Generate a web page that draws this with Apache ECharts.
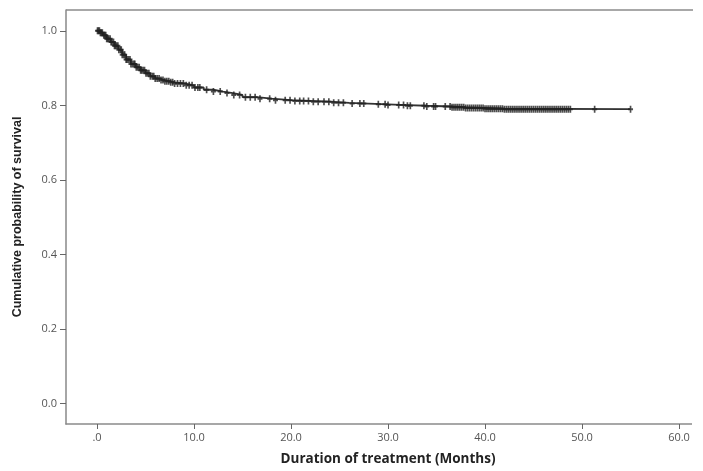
<!DOCTYPE html>
<html>
<head>
<meta charset="utf-8">
<script src="https://cdn.jsdelivr.net/npm/echarts@6/dist/echarts.min.js"></script>
<style>
html,body{margin:0;padding:0;background:#fff;}
#chart{width:703px;height:471px;}
</style>
</head>
<body>
<div id="chart"></div>
<script>
// Kaplan-Meier step function (time in months, cumulative survival)
const stepTimes = [0, 0.3, 0.6, 1.0, 1.4, 1.8, 2.2, 2.6, 3.0, 3.5, 4.0, 4.5, 5.0, 5.5, 6.0, 6.5, 7.0, 7.5, 8.0, 9.0, 10.0, 11.0, 12.0, 13.0, 14.0, 15.0, 16.5, 18.0, 20.0, 22.0, 24.0, 26.0, 28.0, 30.0, 32.0, 34.0, 36.5, 38.0, 40.0, 42.0, 55.0];
const stepSurv  = [1.000, 0.995, 0.988, 0.979, 0.970, 0.960, 0.949, 0.936, 0.923, 0.911, 0.902, 0.894, 0.886, 0.878, 0.872, 0.868, 0.865, 0.862, 0.859, 0.854, 0.848, 0.842, 0.837, 0.833, 0.828, 0.822, 0.818, 0.814, 0.812, 0.810, 0.807, 0.805, 0.803, 0.801, 0.799, 0.797, 0.795, 0.793, 0.791, 0.790, 0.790];
// Censored observations (months)
const censorTimes = [
  0.05,0.15,0.25,0.35,0.45,0.55,0.7,0.8,0.9,1.0,1.1,1.2,1.35,1.45,1.55,1.7,1.8,1.9,2.0,2.15,2.25,2.4,2.5,2.6,2.75,2.85,3.0,3.1,3.25,3.4,3.5,3.65,3.8,3.9,4.05,4.2,4.35,4.5,4.6,4.75,4.9,5.05,5.2,5.35,5.5,5.7,5.85,6.0,6.2,6.4,6.6,6.8,7.0,7.2,7.4,7.6,7.8,8.0,8.3,8.6,8.9,9.2,9.5,9.8,10.1,10.4,
  10.6,11.3,12.0,12.7,13.4,14.1,14.7,15.3,15.8,16.3,16.8,17.8,18.4,19.4,19.9,20.4,20.9,21.3,21.8,22.3,22.8,23.4,23.9,24.4,24.9,25.4,26.3,27.1,27.5,29.0,29.7,30.0,31.1,31.6,32.0,32.3,33.7,34.0,34.7,34.9,35.9,
  36.4,36.6,36.8,37.0,37.2,37.4,37.6,37.8,38.0,38.2,38.4,38.6,38.8,39.0,39.2,39.4,39.6,39.8,40.0,40.2,40.4,40.6,40.8,41.0,41.2,41.4,41.6,41.8,42.0,42.2,42.4,42.6,42.8,43.0,43.2,43.4,43.6,43.8,44.0,44.2,44.4,44.6,44.8,45.0,45.2,45.4,45.6,45.8,46.0,46.2,46.4,46.6,46.8,47.0,47.2,47.4,47.6,47.8,48.0,48.2,48.4,48.6,48.8,
  51.3,55.0
];
const xTicks = [0, 10, 20, 30, 40, 50, 60];
const yTicks = [0, 0.2, 0.4, 0.6, 0.8, 1.0];

function survAt(t) {
  let s = stepSurv[0];
  for (let i = 0; i < stepTimes.length; i++) {
    if (stepTimes[i] <= t) s = stepSurv[i]; else break;
  }
  return s;
}

const lineData = stepTimes.map((t, i) => [t, stepSurv[i]]);
const censorData = censorTimes.map(t => [t, survAt(t)]);

const chart = echarts.init(document.getElementById('chart'), null, {renderer: 'canvas'});
chart.setOption({
  animation: false,
  backgroundColor: '#fff',
  grid: {left: 66, right: 10, top: 10, bottom: 45, show: false},
  graphic: [{
    type: 'line', silent: true,
    shape: {x1: 66, y1: 10, x2: 693, y2: 10},
    style: {stroke: '#8b8b8b', lineWidth: 1.5}
  }, {
    type: 'rect', silent: true, z: 100,
    shape: {x: 692, y: 11, width: 11, height: 414},
    style: {fill: '#fff'}
  }],
  xAxis: {
    type: 'value', min: -3.196, max: 61.44,
    name: 'Duration of treatment (Months)', nameLocation: 'middle', nameGap: 28,
    nameTextStyle: {fontFamily: 'Open Sans', fontWeight: 'bold', fontSize: 13.5, color: '#222', padding: [0, 0, 0, 17]},
    axisLine: {show: true, onZero: false, lineStyle: {color: '#8a8a8a', width: 1.5}},
    axisTick: {show: true, length: 5, customValues: xTicks, lineStyle: {color: '#666'}},
    axisLabel: {customValues: xTicks, margin: 8, color: '#555', fontFamily: 'Open Sans', fontSize: 11,
      formatter: v => v === 0 ? '.0' : v.toFixed(1)},
    splitLine: {show: false}
  },
  yAxis: {
    type: 'value', min: -0.0546, max: 1.0559,
    name: 'Cumulative probability of survival', nameLocation: 'middle', nameGap: 42,
    nameTextStyle: {fontFamily: 'Liberation Sans', fontWeight: 'bold', fontSize: 12.5, color: '#222'},
    axisLine: {show: true, onZero: false, lineStyle: {color: '#898989', width: 1.5}},
    axisTick: {show: true, length: 6, customValues: yTicks, lineStyle: {color: '#666'}},
    axisLabel: {customValues: yTicks, margin: 9, color: '#555', fontFamily: 'Open Sans', fontSize: 11,
      formatter: v => v.toFixed(1)},
    splitLine: {show: false}
  },
  series: [{
    type: 'line', step: 'end', data: lineData, showSymbol: false, symbol: 'none',
    lineStyle: {color: '#333', width: 1.8}, z: 2
  }, {
    type: 'scatter', data: censorData,
    symbol: 'path://M2 0L4 0L4 2.5L6 2.5L6 4.5L4 4.5L4 7L2 7L2 4.5L0 4.5L0 2.5L2 2.5Z', symbolSize: [5, 7],
    itemStyle: {color: '#222'}, z: 3
  }]
});
</script>
</body>
</html>
